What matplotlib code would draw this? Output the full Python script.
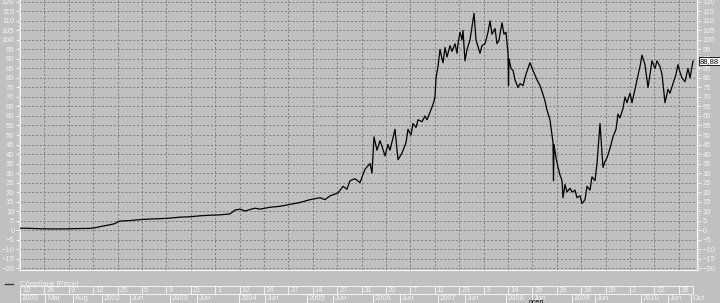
import matplotlib
matplotlib.use("Agg")
import matplotlib.pyplot as plt
from matplotlib.lines import Line2D
from matplotlib.ticker import MultipleLocator, FixedLocator, NullFormatter
from matplotlib.transforms import blended_transform_factory

# ---------------- data ----------------
# (bar index on the chart, price), grouped by period
prices_2000_2005 = [(0, 1.0), (10, 0.9), (20, 0.7), (30, 0.6), (40, 0.6), (50, 0.7), (60, 0.8),
                    (70, 0.9), (75, 1.2), (80, 1.8), (85, 2.3), (90, 2.8), (95, 3.4), (98, 4.5),
                    (102, 4.8), (110, 5.0), (120, 5.5), (130, 5.8), (140, 6.0), (150, 6.3),
                    (160, 6.8), (170, 7.0), (180, 7.5), (190, 7.8), (200, 8.0), (210, 8.5),
                    (215, 10.5), (220, 11.0), (225, 10.0), (230, 10.8), (235, 11.5), (240, 11.0),
                    (250, 12.0), (260, 12.5), (270, 13.5), (280, 14.5), (290, 16.0), (300, 17.0),
                    (305, 16.0), (310, 18.0), (318, 19.5), (323, 23.0), (327, 21.5), (330, 26.0),
                    (335, 27.0), (340, 25.0), (345, 32.0), (350, 35.0), (352, 30.0)]
prices_2006 = [(354, 49), (357, 42), (360, 47), (362, 44), (365, 39), (368, 45), (370, 42),
               (375, 53), (378, 37), (382, 40.5), (386, 46), (388, 53), (391, 50), (393, 56),
               (396, 54), (398, 58), (402, 57), (405, 60), (407, 58), (410, 62), (413, 66),
               (415, 70), (416, 80), (418, 86), (420, 95), (422, 90), (423, 88), (425, 96),
               (427, 91), (428, 93), (430, 97), (432, 94), (435, 98), (437, 93)]
prices_2007 = [(438, 98), (440, 104), (442, 100), (443, 105), (445, 89), (447, 95), (450, 100),
               (452, 107), (454, 114), (456, 100), (460, 93), (462, 97), (465, 98), (468, 104),
               (470, 110), (472, 103), (475, 106), (477, 98), (479, 100), (482, 109), (484, 103),
               (486, 104), (488, 93), (488.5, 76), (489, 90)]
prices_2008 = [(491, 85), (493, 84), (495, 79), (498, 75), (500, 77), (503, 76), (506, 82),
               (510, 88), (513, 84), (517, 79), (520, 76), (522, 73), (525, 68), (527, 63),
               (530, 58), (533, 46), (533.5, 26), (534, 45), (536, 38), (538, 33), (540, 29),
               (542, 26), (543, 17), (545, 24), (547, 20), (550, 22), (552, 20), (555, 21),
               (557, 17), (560, 18), (562, 14)]
prices_2009_2010 = [(565, 16), (567, 23), (570, 21), (572, 28), (575, 26), (577, 35), (580, 56),
                    (583, 33), (585, 36), (587, 38), (590, 43), (593, 49), (596, 53), (598, 61),
                    (600, 59), (603, 64), (605, 70), (607, 67), (610, 72), (612, 67), (615, 74),
                    (617, 79), (620, 86), (622, 92), (625, 87), (628, 75), (632, 89), (635, 85),
                    (637, 89), (640, 86), (642, 82), (645, 67), (648, 74), (650, 72), (653, 77),
                    (656, 82), (658, 87), (660, 83), (662, 80), (665, 78), (668, 85), (670, 80),
                    (673, 88.88)]
last_value_label = "88,88"
series_name = "Сбербанк [Price]"

# upper date row: day numbers at evenly spaced gridline positions
day_step = 24.4
day_labels = ["12", "26", "9", "12", "25", "5", "9", "21", "1", "12", "24", "27", "14", "27",
              "31", "20", "7", "11", "23", "3", "14", "26", "29", "16", "29", "2", "22", "26"]
# lower date row: month / year labels and their bar positions
month_pos = [0, 25, 53, 82, 110, 150, 177, 219, 245, 287, 313, 353, 380, 418, 445, 486, 512,
             552, 575, 621, 648, 671]
month_labels = ["2000", "Mar", "Aug", "2002", "Jun", "2003", "Jun", "2004", "Jun", "2005", "Jun",
                "2006", "Jun", "2007", "Jun", "2008", "Jun", "2009", "Jun", "2010", "Jun", "Oct"]

points = prices_2000_2005 + prices_2006 + prices_2007 + prices_2008 + prices_2009_2010
bar_index = [p[0] for p in points]
price = [p[1] for p in points]

# ---------------- style ----------------
BG = "#c0c0c0"
TXT = "#f4f4f4"
GRID = "#7c7c7c"
FS = 5.5
plt.rcParams["font.family"] = ["Liberation Sans", "DejaVu Sans"]

W, H = 720, 303
fig = plt.figure(figsize=(W / 100, H / 100), dpi=100, facecolor=BG)
ax = fig.add_axes([20 / W, 33 / H, 677 / W, 270 / H], facecolor=BG)

ax.plot(bar_index, price, color="black", lw=0.9, zorder=3)
ax.set_xlim(0, 677)
ax.set_ylim(-21, 121)

# y axis: labels on both sides
ax.yaxis.set_major_locator(MultipleLocator(5))
ax.yaxis.set_minor_locator(MultipleLocator(1))
ax.tick_params(axis="y", which="major", left=True, right=True, labelleft=True, labelright=True,
               length=3, width=0.7, color=TXT, labelcolor=TXT, labelsize=FS, pad=1)
ax.tick_params(axis="y", which="minor", left=True, right=True, length=1.5, width=0.5, color=TXT)

# x axis: gridline positions only
grid_x = [k * day_step for k in range(len(day_labels))]
ax.xaxis.set_major_locator(FixedLocator(grid_x))
ax.xaxis.set_major_formatter(NullFormatter())
ax.tick_params(axis="x", length=0)

ax.grid(True, which="major", color=GRID, linestyle=(0, (2, 2)), lw=0.7)
ax.set_axisbelow(True)

for s in ["left", "right", "bottom"]:
    ax.spines[s].set_color(TXT)
    ax.spines[s].set_linewidth(0.8)
ax.spines["top"].set_visible(False)

# last value box
vtrans = blended_transform_factory(ax.transAxes, ax.transData)
ax.text(1.004, price[-1], last_value_label, transform=vtrans, ha="left", va="center",
        fontsize=FS, color="black", zorder=5,
        bbox=dict(boxstyle="square,pad=0.12", fc="white", ec="black", lw=0.6))

# legend
fig.add_artist(Line2D([5 / W, 13 / W], [(H - 284) / H] * 2, color="#383838", lw=1.0,
                      transform=fig.transFigure))
fig.text(20 / W, (H - 284) / H, series_name, color=TXT, fontsize=FS, va="center", ha="left")

# date rows
trans = blended_transform_factory(ax.transData, fig.transFigure)
y_r1_top = (H - 286) / H
y_r2_top = (H - 294) / H
y_r2_bot = (H - 302.5) / H
x_end = bar_index[-1]
for yy in (y_r1_top, y_r2_top):
    fig.add_artist(Line2D([0, x_end], [yy, yy], color=TXT, lw=0.7, transform=trans))

for x, lab in zip(grid_x, day_labels):
    fig.add_artist(Line2D([x, x], [y_r2_top, y_r1_top], color=TXT, lw=0.7, transform=trans))
    fig.text(x + 2, (y_r1_top + y_r2_top) / 2, lab, transform=trans, color=TXT, fontsize=FS,
             ha="left", va="center")
fig.add_artist(Line2D([x_end, x_end], [y_r2_top, y_r1_top], color=TXT, lw=0.7, transform=trans))

for x, lab in zip(month_pos, month_labels):
    fig.add_artist(Line2D([x, x], [y_r2_bot, y_r2_top], color=TXT, lw=0.7, transform=trans))
    fig.text(x + 2, (y_r2_top + y_r2_bot) / 2, lab, transform=trans, color=TXT, fontsize=FS,
             ha="left", va="center")

# small overlay caption near the 2008 section (partly cut by the lower edge)
fig.text(529 / W, (H - 302) / H, "осел", color="black", fontsize=FS - 0.5, ha="left",
         va="center")

fig.savefig("out.png", dpi=100, facecolor=BG)
